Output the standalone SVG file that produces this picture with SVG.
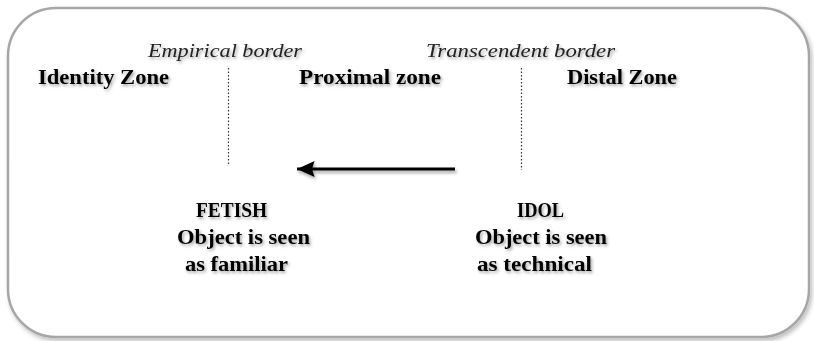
<svg xmlns="http://www.w3.org/2000/svg" width="814" height="341" viewBox="0 0 814 341">
<defs>
<filter id="ts" x="-10%" y="-30%" width="130%" height="180%">
<feDropShadow dx="1.5" dy="2" stdDeviation="1.6" flood-color="#000" flood-opacity="0.35"/>
</filter>
<filter id="as" filterUnits="userSpaceOnUse" x="0" y="0" width="814" height="341">
<feDropShadow dx="1.5" dy="2.5" stdDeviation="1.6" flood-color="#000" flood-opacity="0.35"/>
</filter>
<filter id="bs" x="-5%" y="-5%" width="110%" height="115%">
<feDropShadow dx="2" dy="3" stdDeviation="2" flood-color="#000" flood-opacity="0.25"/>
</filter>
<marker id="ah" viewBox="0 0 10 10" refX="10" refY="5" markerWidth="5.5" markerHeight="5.5" orient="auto" markerUnits="strokeWidth">
<path d="M10,5 L0,0.5 L1.5,5 L0,9.5 Z" fill="#000"/>
</marker>
</defs>
<style>
.b{font-family:"Liberation Serif","Times New Roman",serif;font-weight:bold;font-size:21px;fill:#000}
.i{font-family:"Liberation Serif","Times New Roman",serif;font-style:italic;font-size:19px;fill:#222}
.dot{stroke:#333;stroke-width:1.2;stroke-dasharray:1.5 2;fill:none}
</style>
<rect x="8" y="8" width="801" height="329" rx="48" ry="48" fill="#fff" stroke="#a6a6a6" stroke-width="2.5" filter="url(#bs)"/>
<g id="labels" filter="url(#ts)">
<text class="i" x="148" y="57" textLength="154" lengthAdjust="spacingAndGlyphs">Empirical border</text>
<text class="i" x="426" y="57" textLength="189" lengthAdjust="spacingAndGlyphs">Transcendent border</text>
</g>
<g id="identity-zone" filter="url(#ts)"><text class="b" x="38" y="84" textLength="131" lengthAdjust="spacingAndGlyphs">Identity Zone</text></g>
<g id="proximal-zone" filter="url(#ts)"><text class="b" x="299" y="84" textLength="142" lengthAdjust="spacingAndGlyphs">Proximal zone</text></g>
<g id="distal-zone" filter="url(#ts)"><text class="b" x="567" y="84" textLength="110" lengthAdjust="spacingAndGlyphs">Distal Zone</text></g>
<g id="fetish" filter="url(#ts)">
<text class="b" x="196" y="217" textLength="71" lengthAdjust="spacingAndGlyphs">FETISH</text>
<text class="b" x="177" y="244" textLength="133" lengthAdjust="spacingAndGlyphs">Object is seen</text>
<text class="b" x="185" y="271" textLength="103" lengthAdjust="spacingAndGlyphs">as familiar</text>
</g>
<g id="idol" filter="url(#ts)">
<text class="b" x="517" y="217" textLength="47" lengthAdjust="spacingAndGlyphs">IDOL</text>
<text class="b" x="475" y="244" textLength="132" lengthAdjust="spacingAndGlyphs">Object is seen</text>
<text class="b" x="477" y="271" textLength="115" lengthAdjust="spacingAndGlyphs">as technical</text>
</g>
<g id="connectors">
<line class="dot" x1="228.5" y1="68" x2="228.5" y2="166"/>
<line class="dot" x1="521.5" y1="68" x2="521.5" y2="170"/>
<g filter="url(#as)">
<line x1="455" y1="169" x2="297" y2="169" stroke="#000" stroke-width="3.2" marker-end="url(#ah)"/>
</g>
</g>
</svg>
